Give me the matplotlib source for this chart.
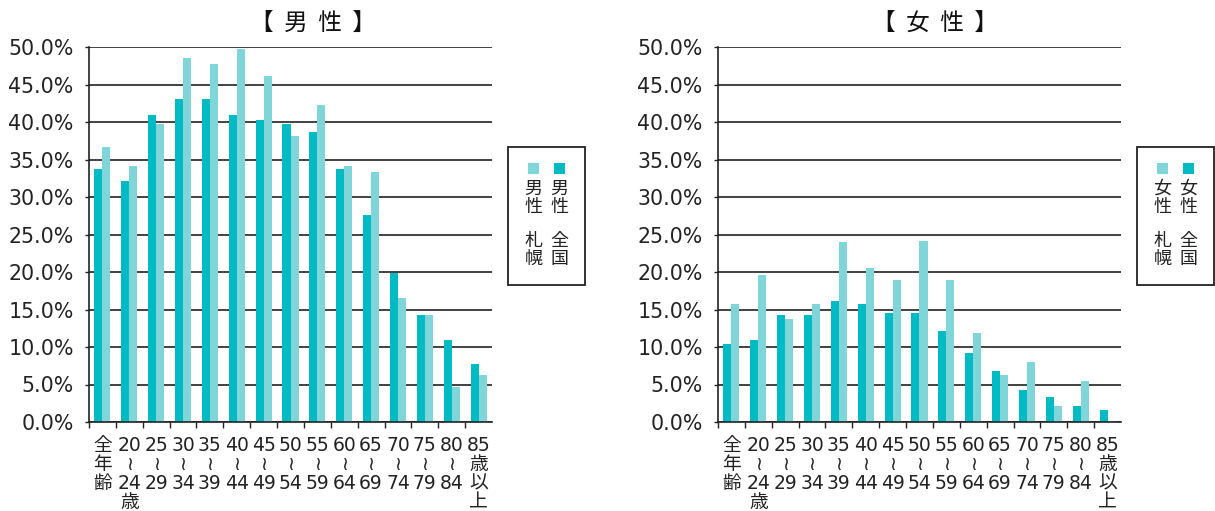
import matplotlib
matplotlib.use('Agg')
import matplotlib.pyplot as plt
from matplotlib.patches import Rectangle
import numpy as np

plt.rcParams['font.family'] = ['Noto Sans CJK JP', 'DejaVu Sans']
MIX = ['DejaVu Sans', 'Noto Sans CJK JP']

categories = ['全\n年\n齢', '20\n≀\n24\n歳', '25\n≀\n29', '30\n≀\n34', '35\n≀\n39',
              '40\n≀\n44', '45\n≀\n49', '50\n≀\n54', '55\n≀\n59', '60\n≀\n64',
              '65\n≀\n69', '70\n≀\n74', '75\n≀\n79', '80\n≀\n84', '85\n歳\n以\n上']
male_national = [33.8, 32.1, 40.9, 43.1, 43.1, 40.9, 40.3, 39.8, 38.7, 33.8, 27.6, 19.9, 14.3, 11.0, 7.7]
male_sapporo = [36.7, 34.2, 39.8, 48.5, 47.8, 49.7, 46.2, 38.2, 42.3, 34.2, 33.3, 16.6, 14.3, 4.7, 6.3]
female_national = [10.4, 11.0, 14.3, 14.3, 16.1, 15.7, 14.6, 14.6, 12.1, 9.2, 6.8, 4.3, 3.3, 2.1, 1.6]
female_sapporo = [15.7, 19.6, 13.8, 15.7, 24.0, 20.5, 19.0, 24.2, 19.0, 11.9, 6.3, 8.0, 2.1, 5.5, 0.1]
yticks = [0, 5, 10, 15, 20, 25, 30, 35, 40, 45, 50]

DARK = '#00BBC3'
LIGHT = '#80D5D8'

W, H = 1215, 511
fig = plt.figure(figsize=(W / 100, H / 100), dpi=100)


def fx(px):
    return px / W


def fy(py):
    return 1 - py / H


def make_panel(left_px, national, sapporo, title, title_px, sex):
    ax = fig.add_axes([fx(left_px), fy(422), 403 / W, (422 - 47) / H])
    x = np.arange(len(categories))
    w = 0.3
    ax.bar(x - w / 2, national, width=w, color=DARK, zorder=3)
    ax.bar(x + w / 2, sapporo, width=w, color=LIGHT, zorder=3)
    ax.set_xlim(-0.5, len(categories) - 0.5)
    ax.set_ylim(0, 50)
    ax.set_yticks(yticks)
    ax.set_yticklabels([f'{v:.1f}%' for v in yticks], fontsize=14.8, family='DejaVu Sans',
                       color='#222222')
    ax.yaxis.grid(True, color='#333333', linewidth=1.3, zorder=1)
    ax.set_axisbelow(True)
    for s in ['top', 'right']:
        ax.spines[s].set_visible(False)
    for s in ['left', 'bottom']:
        ax.spines[s].set_color('#222222')
        ax.spines[s].set_linewidth(1.2)
        ax.spines[s].set_zorder(4)
    ax.tick_params(axis='y', direction='out', length=3, width=1, pad=8, color='#222222')
    ax.set_xticks(np.arange(-0.5, len(categories) - 0.5, 1.0))
    ax.set_xticklabels([])
    ax.tick_params(axis='x', which='major', direction='out', length=4, width=1, color='#222222')
    ax.set_xticks(x, minor=True)
    ax.set_xticklabels(categories, minor=True, fontsize=13.5, family=MIX, va='top',
                       linespacing=1.0, color='#222222')
    ax.tick_params(axis='x', which='minor', length=0, pad=10)

    # title
    fig.text(fx(title_px), fy(23), title, ha='center', va='center', fontsize=17,
             color='#111111')

    # legend
    lx = left_px + 419
    fig.add_artist(Rectangle((fx(lx), fy(285)), 77 / W, 138 / H, fill=False,
                             edgecolor='#222222', linewidth=1.3))
    for dx, col, lab in [(20, LIGHT, '札\n幌'), (46, DARK, '全\n国')]:
        fig.add_artist(Rectangle((fx(lx + dx), fy(174)), 11 / W, 11 / H,
                                 facecolor=col, edgecolor='none'))
        fig.text(fx(lx + dx + 5.5), fy(198), sex[0] + '\n' + sex[1], ha='center', va='center',
                 fontsize=13, linespacing=1.0, color='#222222')
        fig.text(fx(lx + dx + 5.5), fy(250), lab, ha='center', va='center',
                 fontsize=13, linespacing=1.0, color='#222222')
    return ax


make_panel(89, male_national, male_sapporo, '【  男  性  】', 313, '男性')
make_panel(718, female_national, female_sapporo, '【  女  性  】', 935, '女性')

fig.savefig('out.png', dpi=100)
